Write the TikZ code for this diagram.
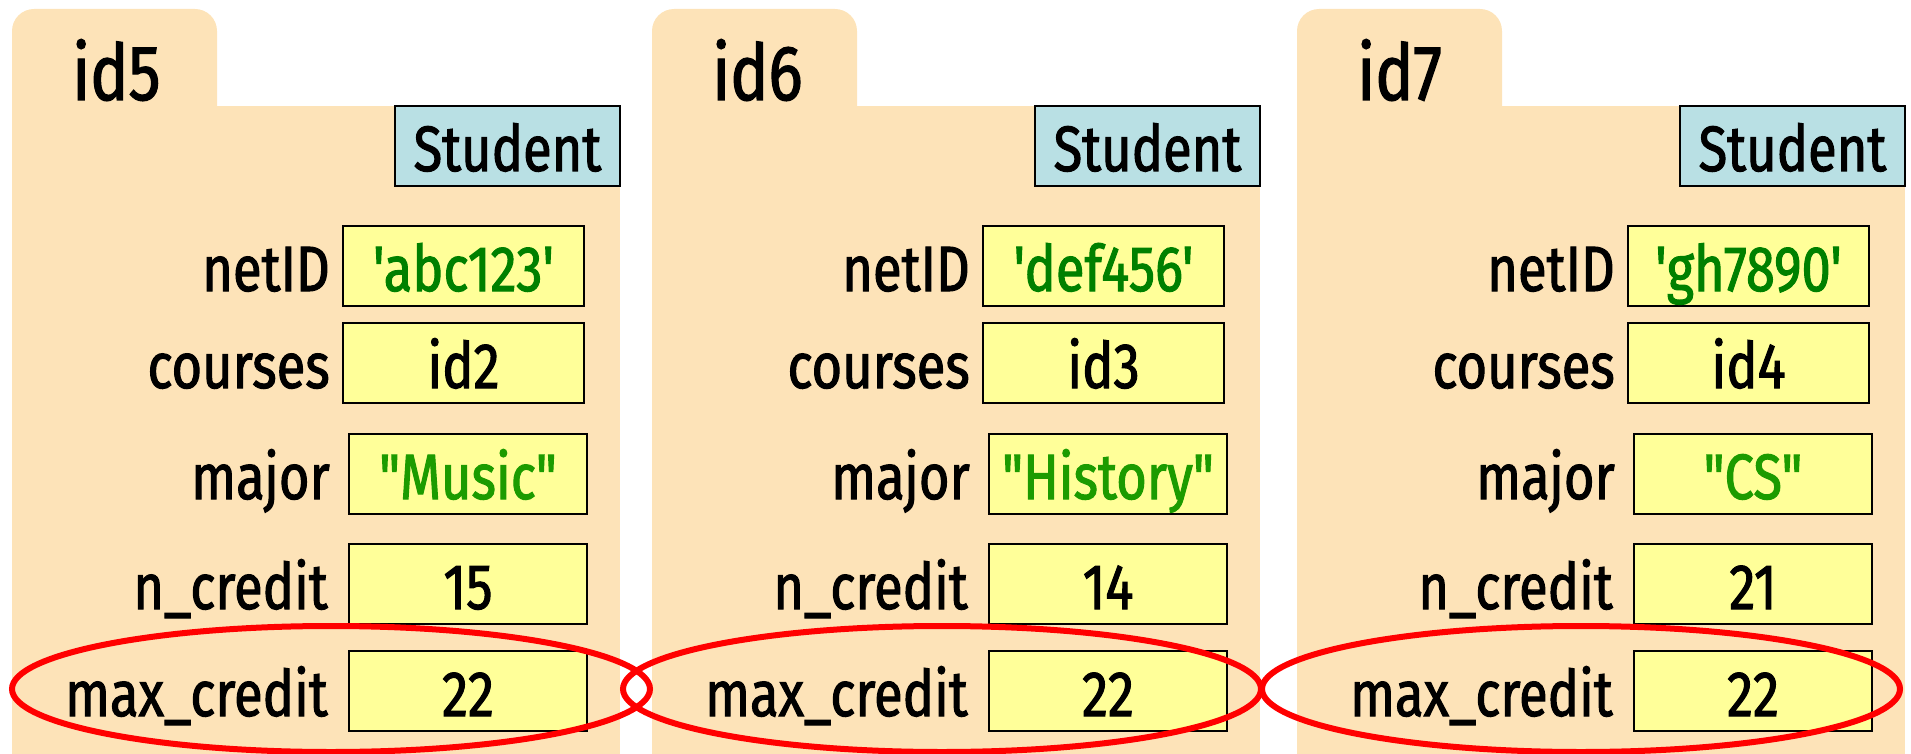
\documentclass[tikz,border=0pt]{standalone}
\usepackage{fontspec}
\newfontfamily\dfont[FakeStretch=0.82,FakeBold=1.6]{Fira Sans}
\definecolor{folderc}{RGB}{253,227,184}
\definecolor{classc}{RGB}{185,224,228}
\definecolor{valc}{RGB}{255,255,153}
\definecolor{strg}{RGB}{0,128,0}
\definecolor{strgb}{RGB}{28,155,0}
\definecolor{ringred}{RGB}{255,0,0}
\begin{document}
\begin{tikzpicture}[x=1pt,y=-1pt,
  txt/.style={font=\dfont\fontsize{64}{70}\selectfont},
  valbox/.style={txt,draw=black,line width=2pt,fill=valc,inner sep=0pt,minimum height=80pt,text height=50pt,text depth=0pt},
  nbox/.style={valbox,minimum width=241pt},
  wbox/.style={valbox,minimum width=238pt},
  classbox/.style={valbox,fill=classc,minimum width=225pt},
  lbl/.style={txt,anchor=base east,inner sep=0pt},
  idlbl/.style={font=\dfont\fontsize{78}{84}\selectfont,anchor=base west,inner sep=0pt},
  ring/.style={draw=ringred,line width=6pt}]
\useasboundingbox (0,0) rectangle (1911,754);
\foreach \i/\fx/\ex/\nid/\crs/\maj/\nc in {5/12/331/'abc123'/id2/"Music"/15, 6/652/942/'def456'/id3/"History"/14, 7/1297/1581/'gh7890'/id4/"CS"/21}{
  % folder shape
  \fill[folderc,rounded corners=22pt] (\fx,9) rectangle (\fx+205,220);
  \fill[folderc] (\fx,106) rectangle (\fx+608,754);
  \node[idlbl] (id\i) at (\fx+60,100) {id\i};
  \node[classbox] (cls\i) at (\fx+495.5,146) {Student};
  \node[nbox,text=strg] (net\i) at (\fx+451.5,266) {\nid};
  \node[nbox] (crs\i) at (\fx+451.5,363) {\crs};
  \node[wbox,text=strgb] (maj\i) at (\fx+456,474) {\maj};
  \node[wbox] (nc\i) at (\fx+456,584) {\nc};
  \node[wbox] (mc\i) at (\fx+456,691) {22};
  \node[lbl] (lnet\i) at ([xshift=-12pt]net\i.base west) {netID};
  \node[lbl] (lcrs\i) at ([xshift=-12pt]crs\i.base west) {courses};
  \node[lbl] (lmaj\i) at ([xshift=-18pt]maj\i.base west) {major};
  \node[lbl] (lnc\i) at ([xshift=-20pt]nc\i.base west) {n\_credit};
  \node[lbl] (lmc\i) at ([xshift=-20pt]mc\i.base west) {max\_credit};
}
\foreach \ex in {331,942,1581}{
  \draw[ring] (\ex,689) ellipse [x radius=319pt, y radius=63pt];
}
\end{tikzpicture}
\end{document}
